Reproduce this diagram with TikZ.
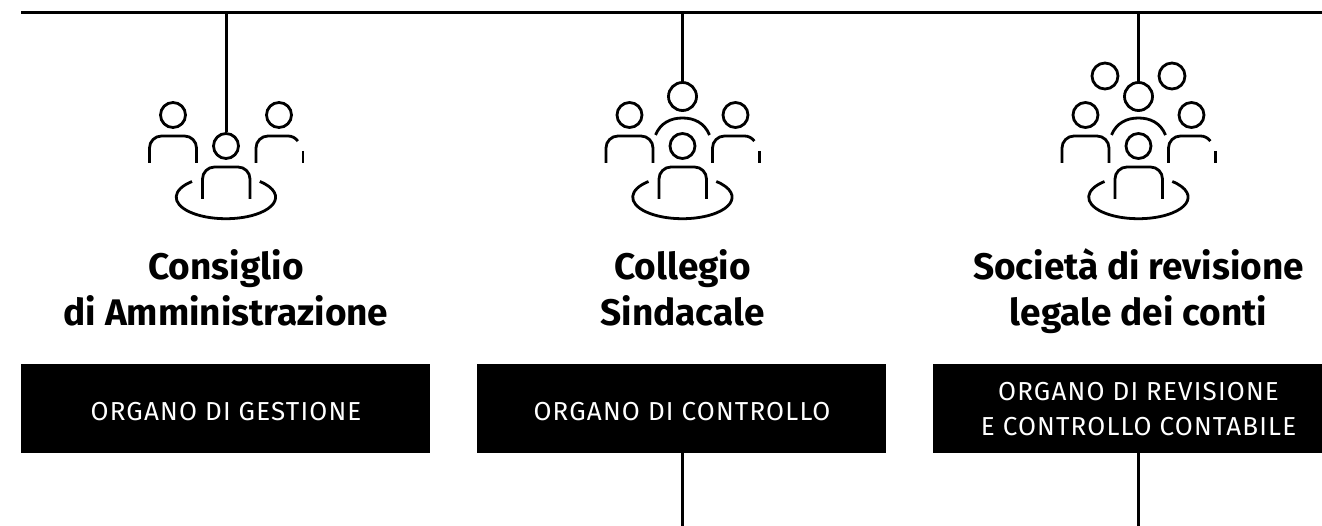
\documentclass[tikz,border=0pt]{standalone}
\usepackage{fontspec}
\setmainfont{Fira Sans}
\usetikzlibrary{positioning}
\tikzset{
  x=1pt, y=-1pt,
  line/.style={line width=3pt, black},
  headc/.style={circle, draw, line width=2.8pt, inner sep=0pt},
  stroke/.style={line width=2.8pt, rounded corners=12pt},
  title/.style={font=\fontseries{sb}\selectfont\fontsize{37}{46}\selectfont, align=center, text=black, anchor=base},
  blackbox/.style={fill=black, text=white, inner sep=0pt, align=center},
  boxlabel/.style={font=\addfontfeature{LetterSpace=4.5}\fontseries{l}\selectfont\fontsize{26}{35}\selectfont, text=white, align=center, anchor=base},
  % seated figure with the two at its sides, origin at the front head
  people/.pic={
    \node[headc, minimum size=25pt] (-front) at (0,0) {};
    \draw[stroke] (-23.5,53) -- (-23.5,21) -- (24,21) -- (24,53);
    \draw[line width=2.8pt] (-34,35.5) arc[start angle=227, end angle=-47, x radius=49.7, y radius=21.5];
    \node[headc, minimum size=25pt] (-left) at (-53,-31) {};
    \node[headc, minimum size=25pt] (-right) at (53,-31) {};
    \draw[stroke] (-76.5,17) -- (-76.5,-10) -- (-29.5,-10) -- (-29.5,17);
    \draw[line width=2.8pt] (30,17) -- (30,2) arc[start angle=180, end angle=270, radius=12] -- (62,-10) arc[start angle=270, end angle=325, radius=12];
    \draw[line width=2.8pt] (77,5) -- (77,17);
  },
  backrow/.pic={
    \node[headc, minimum size=28pt] (-back) at (0,-49.5) {};
    \draw[line width=2.8pt] (-27,-11) .. controls (-22,-23) and (-12,-28) .. (0,-28) .. controls (12,-28) and (22,-23) .. (27,-11);
  },
}
\begin{document}
\begin{tikzpicture}
\useasboundingbox (0,0) rectangle (1322,526);
\coordinate (topL) at (21,13);
\coordinate (topR) at (1322,13);
\draw[line] (topL) -- (topR);

\pic (gestione) at (226,146) {people};
\pic (controllo) at (682.5,146) {people};
\pic (controllo) at (682.5,146) {backrow};
\pic (revisione) at (1138.5,146) {people};
\pic (revisione) at (1138.5,146) {backrow};
\node[headc, minimum size=26pt] (revisione-a) at (1105,76) {};
\node[headc, minimum size=26pt] (revisione-b) at (1172,76) {};

\coordinate (topA) at (226,13);
\coordinate (topB) at (682.5,13);
\coordinate (topC) at (1138.5,13);
\draw[line] (topA) -- (gestione-front);
\draw[line] (topB) -- (controllo-back);
\draw[line] (topC) -- (revisione-back);

\node[title] (t1) at (226,326) {Consiglio\\di Amministrazione};
\node[title] (t2) at (682.5,326) {Collegio\\Sindacale};
\node[title] (t3) at (1138.5,326) {Società di revisione\\legale dei conti};

\node[blackbox, minimum width=409pt, minimum height=89pt] (gestione-box) at (225.5,408.5) {};
\node[blackbox, minimum width=409pt, minimum height=89pt] (controllo-box) at (681.5,408.5) {};
\node[blackbox, minimum width=389pt, minimum height=89pt] (revisione-box) at (1127.5,408.5) {};
\node[boxlabel] (gestione-label) at (226,420) {ORGANO DI GESTIONE};
\node[boxlabel] (controllo-label) at (682,420) {ORGANO DI CONTROLLO};
\node[boxlabel] (revisione-label) at (1138.5,435) {ORGANO DI REVISIONE\\E CONTROLLO CONTABILE};

\coordinate (endB) at (682.5,526);
\coordinate (endC) at (1138.5,526);
\draw[line] (controllo-box.south -| endB) -- (endB);
\draw[line] (revisione-box.south -| endC) -- (endC);
\end{tikzpicture}
\end{document}
